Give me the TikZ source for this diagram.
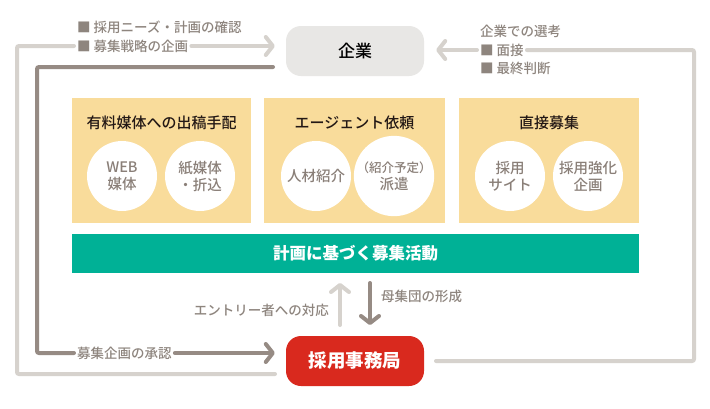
\documentclass[tikz,border=0pt]{standalone}
\usepackage{fontspec}
\setmainfont{Noto Sans CJK JP}
\newfontfamily\jpmed{Noto Sans CJK JP Medium}
\usetikzlibrary{arrows.meta}
\definecolor{lightln}{HTML}{D6D2CD}
\definecolor{darkln}{HTML}{968B84}
\definecolor{lblc}{HTML}{8E857E}
\definecolor{kigyoc}{HTML}{E8E7E5}
\definecolor{jimuc}{HTML}{D9291E}
\definecolor{yelc}{HTML}{F9DC9B}
\definecolor{grnc}{HTML}{00B196}
\definecolor{circc}{HTML}{8A7F78}
\definecolor{titc}{HTML}{231815}
\begin{document}
\begin{tikzpicture}[x=1pt,y=-1pt,
  mainbox/.style={rounded corners=15pt, minimum width=138pt, minimum height=50pt, inner sep=0pt},
  ybox/.style={fill=yelc, minimum height=125pt, inner sep=0pt},
  titlebox/.style={text=titc, font=\jpmed\fontsize{15}{18}\selectfont, inner sep=0pt},
  circbox/.style={circle, fill=white, minimum size=70pt, inner sep=0pt, align=center, text=circc, font=\jpmed\fontsize{14.5}{17}\selectfont},
  lbl/.style={text=lblc, font=\jpmed\fontsize{13.5}{16}\selectfont, inner sep=3pt, anchor=west},
  lightline/.style={draw=lightln, line width=4pt, rounded corners=2pt, line cap=round},
  darkline/.style={draw=darkln, line width=4pt, rounded corners=2pt, line cap=round},
  barb/.style={-{Straight Barb[length=7pt,width=18pt,round]}}
]
\useasboundingbox (0,0) rectangle (710,408);
\fill[white] (0,0) rectangle (710,408);

% main boxes
\node[mainbox, fill=kigyoc, text=black, font=\jpmed\fontsize{17}{20}\selectfont] (kigyo) at (355,51) {企業};
\node[mainbox, fill=jimuc, text=white, font=\bfseries\fontsize{18.5}{21}\selectfont] (jimu) at (355,361) {採用事務局};

% yellow boxes
\node[ybox, minimum width=179pt] (b1) at (161.5,160.5) {};
\node[ybox, minimum width=181pt] (b2) at (354.5,160.5) {};
\node[ybox, minimum width=180pt] (b3) at (549,160.5) {};
\node[titlebox] (t1) at (161.5,123) {有料媒体への出稿手配};
\node[titlebox] (t2) at (354.5,123) {エージェント依頼};
\node[titlebox] (t3) at (549,123) {直接募集};
\node[circbox] (c1) at (122,176) {WEB\\媒体};
\node[circbox] (c2) at (200,176) {紙媒体\\・折込};
\node[circbox] (c3) at (316,176) {人材紹介};
\node[circbox] (c4) at (394,176) {{\fontsize{12.5}{17}\selectfont（紹介予定）}\\派遣};
\node[circbox] (c5) at (510,176) {採用\\サイト};
\node[circbox] (c6) at (588,176) {採用強化\\企画};

% green bar
\node[fill=grnc, minimum width=567pt, minimum height=39pt, inner sep=0pt, text=white, font=\bfseries\fontsize{16.5}{19}\selectfont] (bar) at (355.5,253.5) {計画に基づく募集活動};

% labels
\node[lbl] (l1) at (74,27) {■ 採用ニーズ・計画の確認};
\node[lbl] (l2) at (74,46) {■ 募集戦略の企画};
\node[lbl] (l3) at (74,353) {募集企画の承認};
\node[lbl] (l4) at (477,31) {企業での選考};
\node[lbl] (l5) at (477,50) {■ 面接};
\node[lbl] (l6) at (477,68) {■ 最終判断};
\node[lbl, anchor=east] (l7) at (332,310) {エントリー者への対応};
\node[lbl] (l8) at (378,296) {母集団の形成};

% coordinates
\coordinate (L0) at (275,374);
\coordinate (D0) at (273,67);
\coordinate (R0) at (436,361);
\coordinate (upB) at (340,325);
\coordinate (upT) at (340,283);
\coordinate (dnT) at (370,283);
\coordinate (dnB) at (370,325);

% light outer loop (left)
\draw[lightline] (L0) -- (17,374) -- (17,46) -- (l2.west);
\draw[lightline, barb, shorten >=11pt] (l2.east) -- (kigyo.west |- l2.east);

% dark loop (left)
\draw[darkline] (D0) -- (37,67) -- (37,353) -- (l3.west);
\draw[darkline, barb, shorten >=11pt] (l3.east) -- (jimu.west |- l3.east);

% light right loop
\draw[lightline] (R0) -- (694,361) -- (694,50) -- (l5.east);
\draw[lightline, barb, shorten >=12pt] (l5.west) -- (kigyo.east |- l5.west);

% vertical arrows
\draw[lightline, barb] (upB) -- (upT);
\draw[darkline, barb] (dnT) -- (dnB);
\end{tikzpicture}
\end{document}
